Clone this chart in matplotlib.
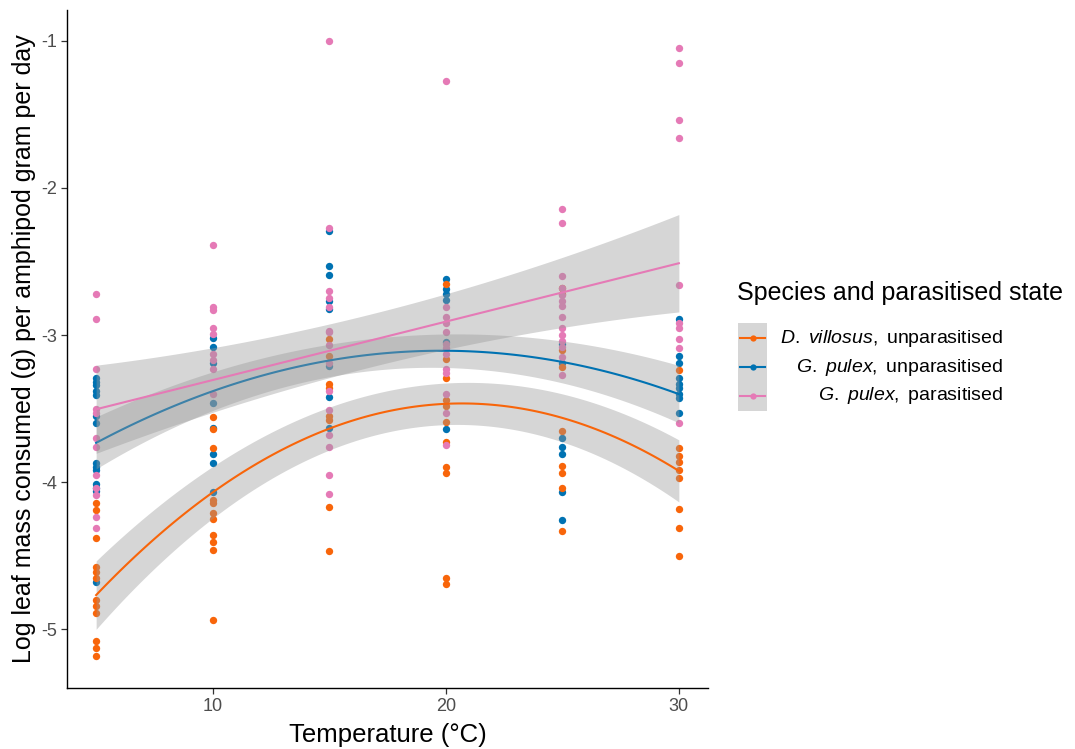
import numpy as np
import matplotlib
matplotlib.use("Agg")
import matplotlib.pyplot as plt
from matplotlib.patches import Rectangle
from matplotlib.lines import Line2D

plt.rcParams["font.family"] = ["Liberation Sans", "DejaVu Sans"]
plt.rcParams["mathtext.fontset"] = "custom"
plt.rcParams["mathtext.rm"] = "Liberation Sans"
plt.rcParams["mathtext.it"] = "Liberation Sans:italic"

# log leaf mass consumed per amphipod gram per day, by temperature (deg C)
dvill_unpar = {
    5: [-4.14, -4.19, -4.38, -4.58, -4.61, -4.65, -4.80, -4.84, -4.89, -5.08, -5.13, -5.18],
    10: [-3.56, -3.64, -3.77, -4.12, -4.14, -4.21, -4.25, -4.36, -4.41, -4.46, -4.94],
    15: [-3.03, -3.14, -3.33, -3.36, -3.55, -3.58, -4.17, -4.47],
    20: [-2.65, -3.16, -3.29, -3.44, -3.48, -3.59, -3.73, -3.90, -3.94, -4.65, -4.69],
    25: [-2.68, -2.72, -3.10, -3.22, -3.65, -3.89, -3.94, -4.04, -4.33],
    30: [-3.24, -3.77, -3.82, -3.86, -3.92, -3.97, -4.18, -4.31, -4.50],
}
gpul_unpar = {
    5: [-3.29, -3.32, -3.34, -3.38, -3.41, -3.55, -3.60, -3.87, -3.90, -3.92, -4.01, -4.04, -4.06, -4.68],
    10: [-3.02, -3.08, -3.19, -3.46, -3.63, -3.81, -3.87, -4.07],
    15: [-2.29, -2.53, -2.59, -2.77, -2.82, -3.21, -3.42, -3.63],
    20: [-2.62, -2.69, -2.72, -2.76, -3.05, -3.64],
    25: [-3.06, -3.19, -3.70, -3.76, -3.81, -4.07, -4.26],
    30: [-2.89, -3.14, -3.19, -3.29, -3.33, -3.36, -3.40, -3.43, -3.53],
}
gpul_par = {
    5: [-2.72, -2.89, -3.23, -3.50, -3.53, -3.70, -3.76, -3.95, -4.04, -4.09, -4.24, -4.31],
    10: [-2.39, -2.81, -2.83, -2.95, -2.99, -3.13, -3.17, -3.23, -3.40],
    15: [-1.00, -2.27, -2.70, -2.75, -2.81, -2.97, -2.98, -3.07, -3.19, -3.38, -3.51, -3.68, -3.76, -3.95, -4.08],
    20: [-1.27, -2.81, -2.88, -2.92, -2.98, -3.06, -3.09, -3.13, -3.23, -3.26, -3.40, -3.53, -3.75],
    25: [-2.14, -2.24, -2.60, -2.68, -2.73, -2.77, -2.80, -2.88, -2.95, -3.00, -3.04, -3.08, -3.15, -3.27],
    30: [-1.05, -1.15, -1.54, -1.66, -2.66, -2.92, -2.95, -3.03, -3.09, -3.60],
}

# model fit and 95% CI half-width at each temperature
fit_temps = [5, 10, 15, 20, 25, 30]
dvill_fit = [-4.77, -4.07, -3.63, -3.47, -3.57, -3.92]
dvill_ci = [0.24, 0.16, 0.15, 0.15, 0.16, 0.21]
gpul_unpar_fit = [-3.73, -3.39, -3.17, -3.10, -3.19, -3.40]
gpul_unpar_ci = [0.18, 0.12, 0.12, 0.12, 0.13, 0.20]
gpul_par_fit = [-3.48, -3.32, -3.12, -2.92, -2.72, -2.49]
gpul_par_ci = [0.30, 0.22, 0.18, 0.19, 0.24, 0.33]

ORANGE = "#F8650A"
BLUE = "#0072B2"
PINK = "#E57AB6"

W, H = 1075, 749


def fig_xy(px, py):
    return px / W, 1 - py / H


fig = plt.figure(figsize=(W / 100, H / 100), dpi=100)
ax = fig.add_axes([67 / W, 1 - 688 / H, (708 - 67) / W, (688 - 10) / H])

# raw observations
for group, colour in [(gpul_unpar, BLUE), (dvill_unpar, ORANGE), (gpul_par, PINK)]:
    for temp, vals in group.items():
        ax.scatter([temp] * len(vals), vals, s=28, color=colour, lw=0, zorder=2)

# smoothed fits with confidence ribbons
xs = np.linspace(5, 30, 120)
for fit, ci, colour, deg in [
    (dvill_fit, dvill_ci, ORANGE, 2),
    (gpul_unpar_fit, gpul_unpar_ci, BLUE, 2),
    (gpul_par_fit, gpul_par_ci, PINK, 1),
]:
    mid = np.polyval(np.polyfit(fit_temps, fit, deg), xs)
    half = np.polyval(np.polyfit(fit_temps, ci, 2), xs)
    ax.fill_between(xs, mid - half, mid + half, color="#999999", alpha=0.4, lw=0, zorder=3)
    ax.plot(xs, mid, color=colour, lw=1.5, zorder=3)

ax.set_xlim(3.75, 31.25)
ax.set_ylim(-5.40, -0.79)
ax.set_xticks([10, 20, 30])
ax.set_yticks([-5, -4, -3, -2, -1])
ax.set_yticklabels(["-5", "-4", "-3", "-2", "-1"])
for side in ["top", "right"]:
    ax.spines[side].set_visible(False)
for side in ["left", "bottom"]:
    ax.spines[side].set_linewidth(1.0)
ax.tick_params(direction="out", length=4, width=0.9, color="#333333",
               labelcolor="#4D4D4D", labelsize=13, pad=3)
ax.set_xlabel("Temperature (°C)", fontsize=18.5, labelpad=6)
ax.set_ylabel("Log leaf mass consumed (g) per amphipod gram per day", fontsize=18, labelpad=4)

# legend
fig.text(*fig_xy(737, 293), "Species and parasitised state", fontsize=18,
         ha="left", va="center")
kx0, ky0 = fig_xy(738, 411)
kx1, ky1 = fig_xy(767, 323)
fig.add_artist(Rectangle((kx0, ky0), kx1 - kx0, ky1 - ky0, transform=fig.transFigure,
                         facecolor="#D6D6D6", edgecolor="none"))
labels = [
    r"$\mathit{D.\ villosus,}$unparasitised",
    r"$\mathit{G.\ pulex,}$unparasitised",
    r"$\mathit{G.\ pulex,}$parasitised",
]
for label, colour, py in zip(labels, [ORANGE, BLUE, PINK], [338, 367, 396]):
    xa, ya = fig_xy(740, py)
    xb, _ = fig_xy(765, py)
    fig.add_artist(Line2D([xa, xb], [ya, ya], transform=fig.transFigure, color=colour,
                          lw=1.5, zorder=5))
    fig.add_artist(Line2D([(xa + xb) / 2], [ya], transform=fig.transFigure, color=colour,
                          marker="o", markersize=4.5, markeredgewidth=0, zorder=6))
    fig.text(*fig_xy(1003, py), label.replace("$unp", "$ unp").replace("$par", "$ par"),
             fontsize=14, ha="right", va="center")

fig.savefig("out.png", dpi=100)
